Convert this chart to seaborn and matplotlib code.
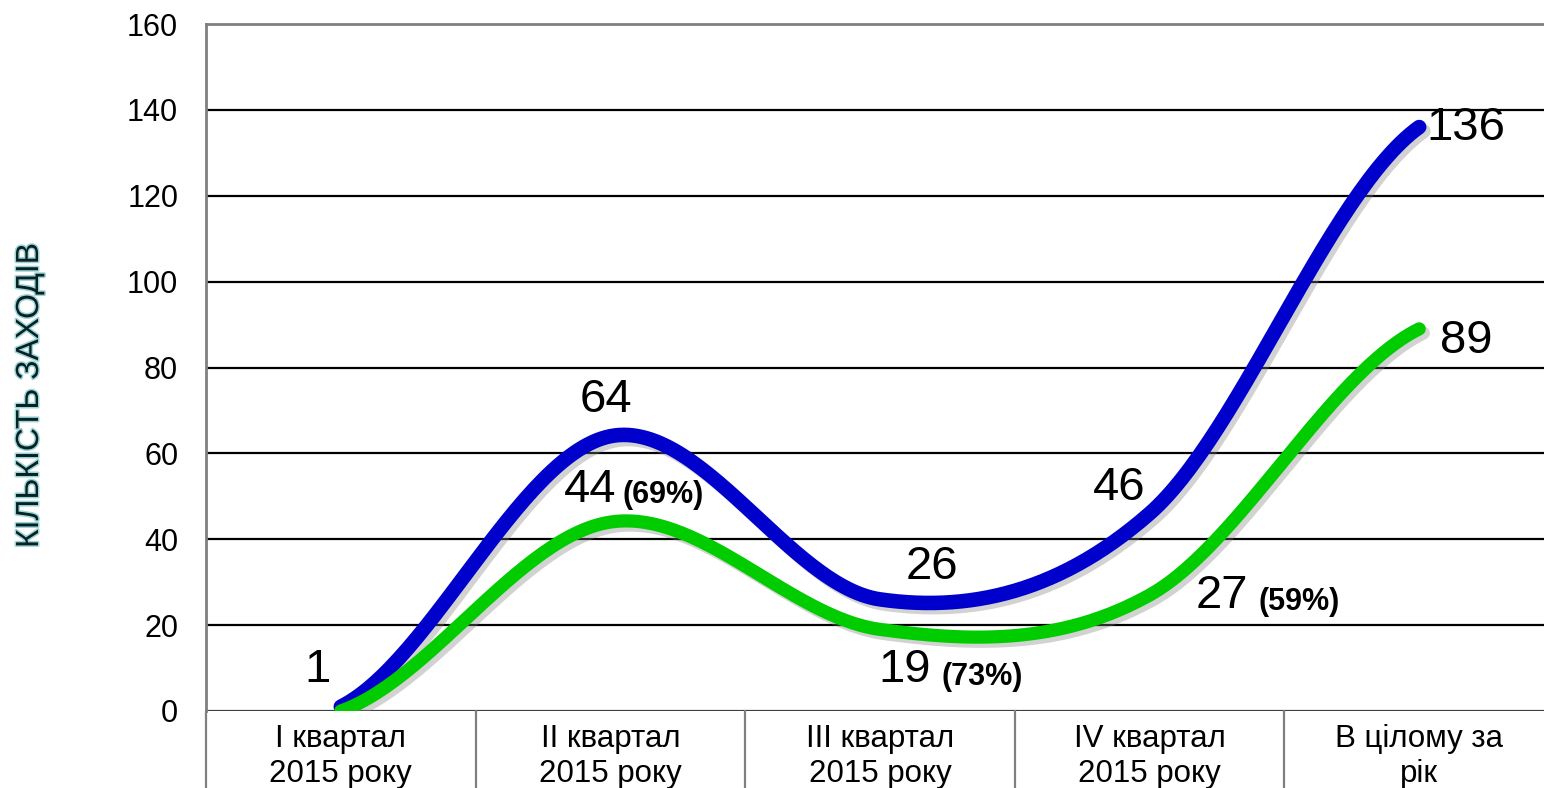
import numpy as np
import pandas as pd
import matplotlib
matplotlib.use("Agg")
import matplotlib.pyplot as plt
import matplotlib.patheffects as pe
import seaborn as sns

# Chart data
categories = ["I квартал\n2015 року", "II квартал\n2015 року", "III квартал\n2015 року",
              "IV квартал\n2015 року", "В цілому за\nрік"]
total_events = [1, 64, 26, 46, 136]
matched_events = [0, 44, 19, 27, 89]
matched_pct = [None, "(69%)", "(73%)", "(59%)", None]
y_ticks = [0, 20, 40, 60, 80, 100, 120, 140, 160]
y_label = "КІЛЬКІСТЬ ЗАХОДІВ"

sns.set_theme(style="white")
plt.rcParams["font.family"] = ["Liberation Sans", "DejaVu Sans"]
plt.rcParams["text.color"] = "black"
plt.rcParams["xtick.color"] = "black"
plt.rcParams["ytick.color"] = "black"


def smooth_curve(values, n=60):
    """Catmull-Rom (Excel-style) smoothed path through the category points."""
    p = np.asarray(values, dtype=float)
    pts = np.concatenate([[p[0]], p, [p[-1]]])
    xs, ys = [], []
    for i in range(len(p) - 1):
        p0, p1, p2, p3 = pts[i], pts[i + 1], pts[i + 2], pts[i + 3]
        t = np.linspace(0, 1, n, endpoint=(i == len(p) - 2))
        c1 = p1 + (p2 - p0) / 6
        c2 = p2 - (p3 - p1) / 6
        y = ((1 - t) ** 3) * p1 + 3 * ((1 - t) ** 2) * t * c1 + 3 * (1 - t) * t ** 2 * c2 + t ** 3 * p2
        xs.append(i + t)
        ys.append(y)
    return pd.DataFrame({"x": np.concatenate(xs), "y": np.concatenate(ys)})


W, H = 1544, 788
fig = plt.figure(figsize=(W / 100, H / 100), dpi=100)
ax = fig.add_axes([206 / W, (H - 711) / H, 1348 / W, 687 / H])

shadow = [pe.SimpleLineShadow(offset=(3, -3), shadow_color="gray", alpha=0.35), pe.Normal()]

sns.lineplot(data=smooth_curve(total_events), x="x", y="y", ax=ax, color="#0000CC",
             linewidth=10.5, solid_capstyle="round", path_effects=shadow, zorder=4)
sns.lineplot(data=smooth_curve(matched_events), x="x", y="y", ax=ax, color="#00CC00",
             linewidth=9.5, solid_capstyle="round", path_effects=shadow, zorder=5)

ax.set_xlim(-0.5, len(categories) - 0.5)
ax.set_ylim(0, 160)
ax.set_yticks(y_ticks)
ax.set_yticklabels([str(v) for v in y_ticks], fontsize=22)
ax.set_xticks(range(len(categories)))
ax.set_xticklabels(categories, fontsize=22.5, linespacing=1.22)
ax.tick_params(axis="y", length=0, pad=20)
ax.tick_params(axis="x", length=0, pad=9)
ax.set_xlabel("")
ax.set_ylabel("")

# Horizontal gridlines
for v in y_ticks[1:-1]:
    ax.axhline(v, color="black", linewidth=1.6, zorder=1)
ax.axhline(0, color="#404040", linewidth=1.6, zorder=1)

for side in ["top", "left"]:
    ax.spines[side].set_color("#808080")
    ax.spines[side].set_linewidth(2)
ax.spines["right"].set_visible(False)
ax.spines["bottom"].set_visible(False)

# Category separators below the axis
trans = ax.get_xaxis_transform()
for xb in np.arange(-0.5, len(categories), 1.0):
    ax.plot([xb, xb], [0, -0.2], transform=trans, color="#808080", linewidth=1.6,
            clip_on=False, zorder=1)

# Value labels
big = 34
small = 22
total_offsets = [(-23, 37), (-4, 36), (52, 32), (-30, 25), (47, -1)]
for i, (v, off) in enumerate(zip(total_events, total_offsets)):
    ax.annotate(str(v), (i, v), xytext=off, textcoords="offset pixels",
                ha="center", va="center", fontsize=big, zorder=6)

matched_offsets = [None, (-20, 32), (25, -41), (72, -1), (47, -12)]
pct_offsets = [None, (53, 27), (102, -48), (150, -7), None]
for i, (v, off, pct, poff) in enumerate(zip(matched_events, matched_offsets,
                                             matched_pct, pct_offsets)):
    if off is None:
        continue
    ax.annotate(str(v), (i, v), xytext=off, textcoords="offset pixels",
                ha="center", va="center", fontsize=big, zorder=6)
    if pct:
        ax.annotate(pct, (i, v), xytext=poff, textcoords="offset pixels",
                    ha="center", va="center", fontsize=small, fontweight="bold", zorder=6)

fig.text(30 / W, (H - 395) / H, y_label, rotation=90, ha="center", va="center",
         fontsize=23, color="#062225",
         path_effects=[pe.withStroke(linewidth=2.2, foreground="#9fd4d7")])

fig.savefig("out.png", dpi=100)
